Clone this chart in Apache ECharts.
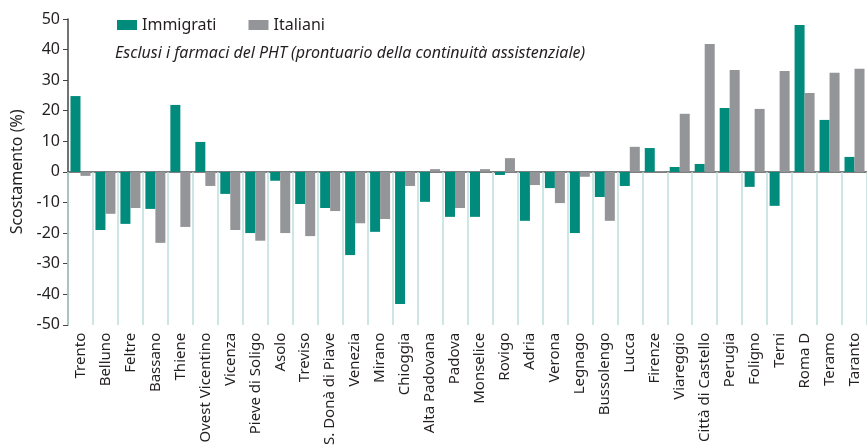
<!DOCTYPE html>
<html>
<head>
<meta charset="utf-8">
<script src="https://cdn.jsdelivr.net/npm/echarts@6/dist/echarts.min.js"></script>
<style>
  html, body { margin: 0; padding: 0; background: #fff; }
  #chart { width: 867px; height: 448px; }
</style>
</head>
<body>
<div id="chart"></div>
<script>
// dati
var categories = ['Trento', 'Belluno', 'Feltre', 'Bassano', 'Thiene', 'Ovest Vicentino', 'Vicenza',
  'Pieve di Soligo', 'Asolo', 'Treviso', 'S. Donà di Piave', 'Venezia', 'Mirano', 'Chioggia',
  'Alta Padovana', 'Padova', 'Monselice', 'Rovigo', 'Adria', 'Verona', 'Legnago', 'Bussolengo',
  'Lucca', 'Firenze', 'Viareggio', 'Città di Castello', 'Perugia', 'Foligno', 'Terni', 'Roma D',
  'Teramo', 'Taranto'];
var immigrati = [24.8, -19.0, -17.0, -12.1, 21.9, 9.8, -7.2, -20.0, -2.9, -10.5, -11.8, -27.2, -19.6, -43.2,
  -9.8, -14.7, -14.7, -1.0, -16.0, -5.3, -20.0, -8.2, -4.6, 7.8, 1.6, 2.6, 20.9, -4.9, -11.1, 48.0, 17.0, 4.9];
var italiani = [-1.3, -13.7, -11.8, -23.2, -18.0, -4.6, -19.0, -22.5, -20.0, -21.0, -12.8, -16.8, -15.4, -4.6,
  0.9, -11.8, 0.9, 4.5, -4.3, -10.2, -1.6, -16.0, 8.2, 0.2, 19.0, 41.8, 33.3, 20.6, 33.0, 25.8, 32.4, 33.7];
var yTicks = [-50, -40, -30, -20, -10, 0, 10, 20, 30, 40, 50];

var font = 'Noto Sans';
var txt = '#231f20';

var myChart = echarts.init(document.getElementById('chart'));
var option = {
    animation: false,
    title: {
        text: 'Esclusi i farmaci del PHT (prontuario della continuità assistenziale)',
        left: 110, top: 40,
        textStyle: { fontFamily: font, fontSize: 16, fontStyle: 'italic', fontWeight: 'normal', color: txt }
    },
    legend: {
        left: 112, top: 12,
        itemWidth: 20, itemHeight: 10, itemGap: 32,
        icon: 'rect',
        textStyle: { fontFamily: font, fontSize: 16, color: txt },
        data: ['Immigrati', 'Italiani']
    },
    grid: { left: 68, top: 19, width: 800, height: 306, containLabel: false },
    xAxis: [{
        type: 'category',
        data: categories,
        axisLine: { onZero: true, lineStyle: { color: '#555', width: 1.5 } },
        axisTick: { show: true, interval: 0, length: 153, lineStyle: { color: '#bfe0dc', width: 1.5 } },
        axisLabel: { show: false },
        z: 1
    }, {
        type: 'category',
        data: categories,
        position: 'bottom',
        axisLine: { show: false, onZero: false },
        axisTick: { show: false },
        axisLabel: {
            interval: 0, rotate: 90, margin: 8,
            fontFamily: font, fontSize: 15, color: txt
        }
    }],
    yAxis: {
        type: 'value',
        min: yTicks[0], max: yTicks[yTicks.length - 1], interval: 10,
        name: 'Scostamento (%)',
        nameLocation: 'middle', nameGap: 41,
        nameTextStyle: { fontFamily: font, fontSize: 16, color: txt },
        axisLine: { show: true, lineStyle: { color: '#444', width: 1.5 } },
        axisTick: { show: true, length: 5, lineStyle: { color: '#444' } },
        axisLabel: { fontFamily: font, fontSize: 16, color: txt, margin: 8 },
        splitLine: { show: false }
    },
    series: [{
        name: 'Immigrati', type: 'bar', data: immigrati,
        barWidth: 10, barGap: '0%',
        itemStyle: { color: '#008b7d' }, z: 3
    }, {
        name: 'Italiani', type: 'bar', data: italiani,
        barWidth: 10,
        itemStyle: { color: '#939598' }, z: 3
    }]
};
myChart.setOption(option);
</script>
</body>
</html>
